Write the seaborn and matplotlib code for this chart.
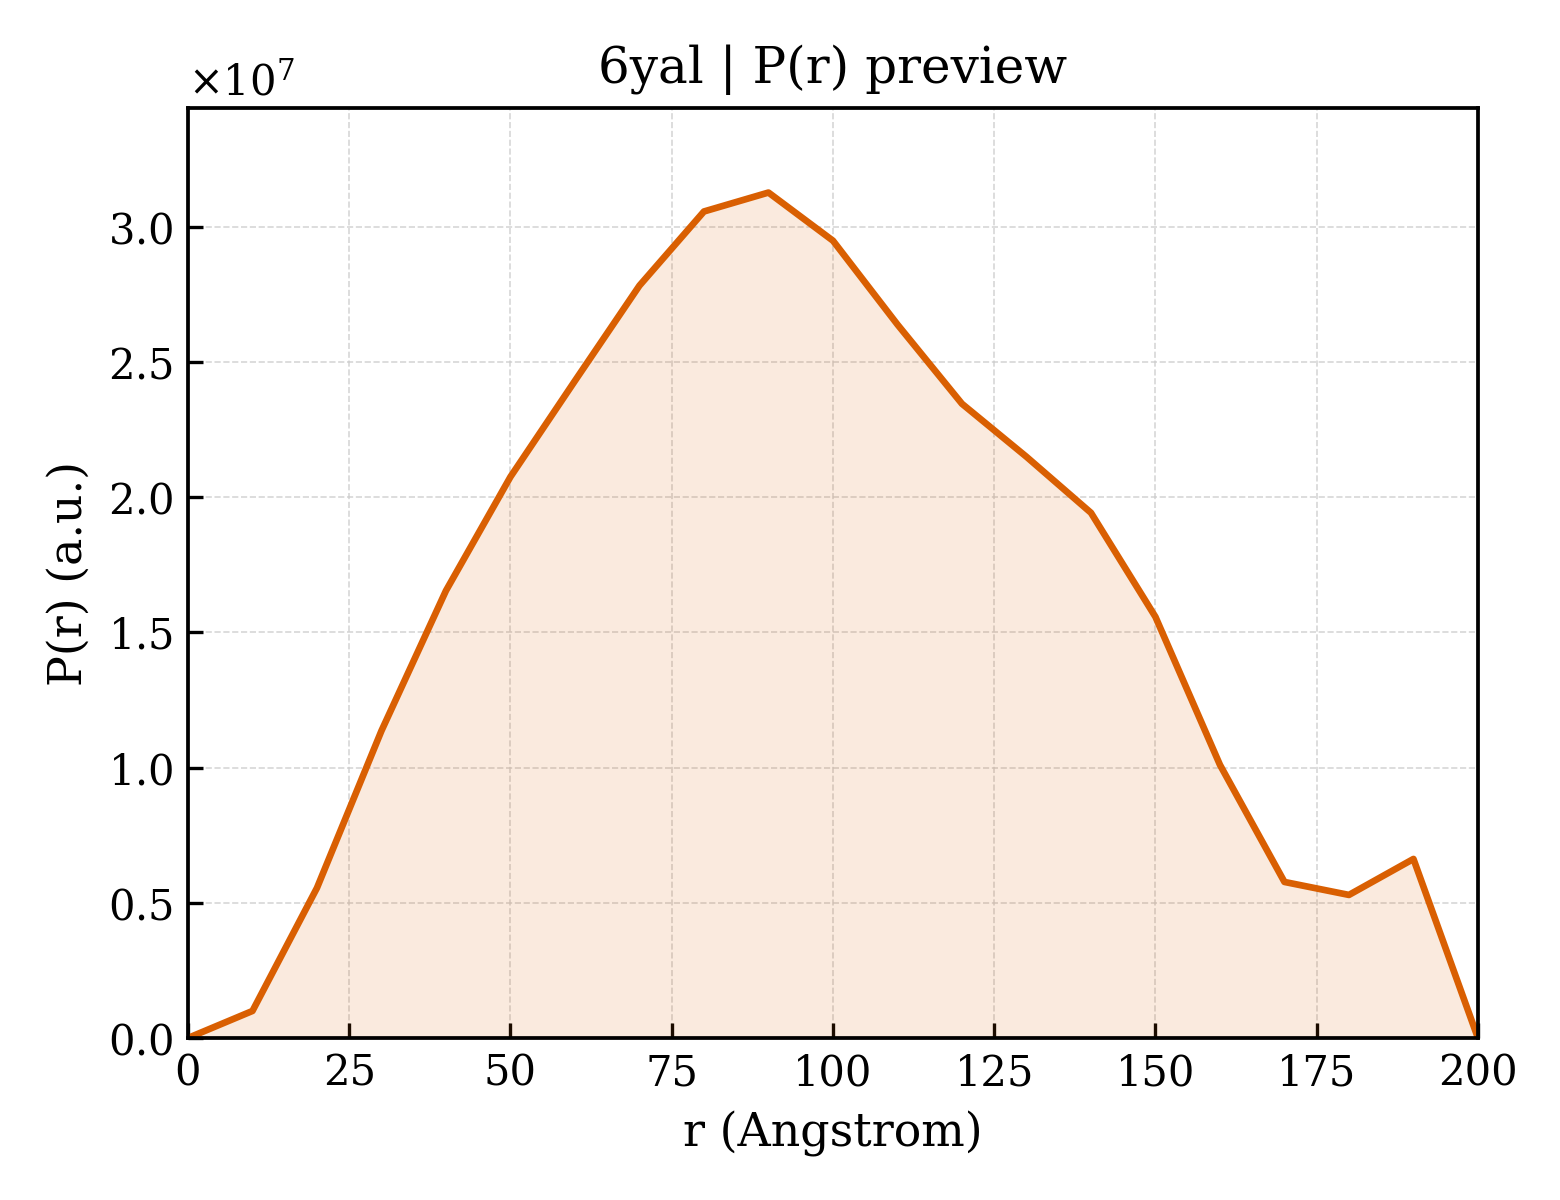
import numpy as np
import pandas as pd
import matplotlib
matplotlib.use('Agg')
import matplotlib.pyplot as plt
import seaborn as sns

r_vals = [0, 10, 20, 30, 40, 50, 60, 70, 80, 90, 100,
          110, 120, 130, 140, 150, 160, 170, 180, 190, 200]
pr_vals = [0.0, 0.10, 0.555, 1.136, 1.654, 2.075, 2.43, 2.782, 3.056, 3.126, 2.948,
           2.638, 2.345, 2.149, 1.942, 1.557, 1.010, 0.577, 0.529, 0.662, 0.0]
pr_vals = [v * 1e7 for v in pr_vals]

titulo = '6yal | P(r) preview'
color = '#D95F02'

sns.set_style('ticks')
plt.rcParams['font.family'] = ['DejaVu Serif']
plt.rcParams['mathtext.fontset'] = 'dejavuserif'
plt.rcParams['text.color'] = 'black'
plt.rcParams['axes.labelcolor'] = 'black'
plt.rcParams['xtick.color'] = 'black'
plt.rcParams['ytick.color'] = 'black'

df = pd.DataFrame({'r': r_vals, 'pr': pr_vals})

fig, ax = plt.subplots(figsize=(5.2, 4), dpi=300)
fig.subplots_adjust(left=0.1205, right=0.9474, bottom=0.135, top=0.91)

sns.lineplot(data=df, x='r', y='pr', color=color, linewidth=1.6, ax=ax)
ax.fill_between(df['r'], df['pr'], color=color, alpha=0.13, linewidth=0)

ax.set_xlim(0, 200)
ax.set_ylim(0, max(pr_vals) * 1.1)
ax.set_title(titulo, fontsize=12, color='black')
ax.set_xlabel('r (Angstrom)', fontsize=11)
ax.set_ylabel('P(r) (a.u.)', fontsize=11)
ax.tick_params(direction='in', labelsize=10, length=3.5, width=0.8,
               colors='black')
ax.ticklabel_format(axis='y', style='sci', scilimits=(0, 0), useMathText=True)
ax.yaxis.get_offset_text().set_fontsize(10)
ax.grid(True, linestyle='--', linewidth=0.4, color='#cccccc', alpha=0.8)
for s in ax.spines.values():
    s.set_visible(True)
    s.set_linewidth(0.9)
    s.set_color('black')

fig.savefig('out.png', dpi=300)
